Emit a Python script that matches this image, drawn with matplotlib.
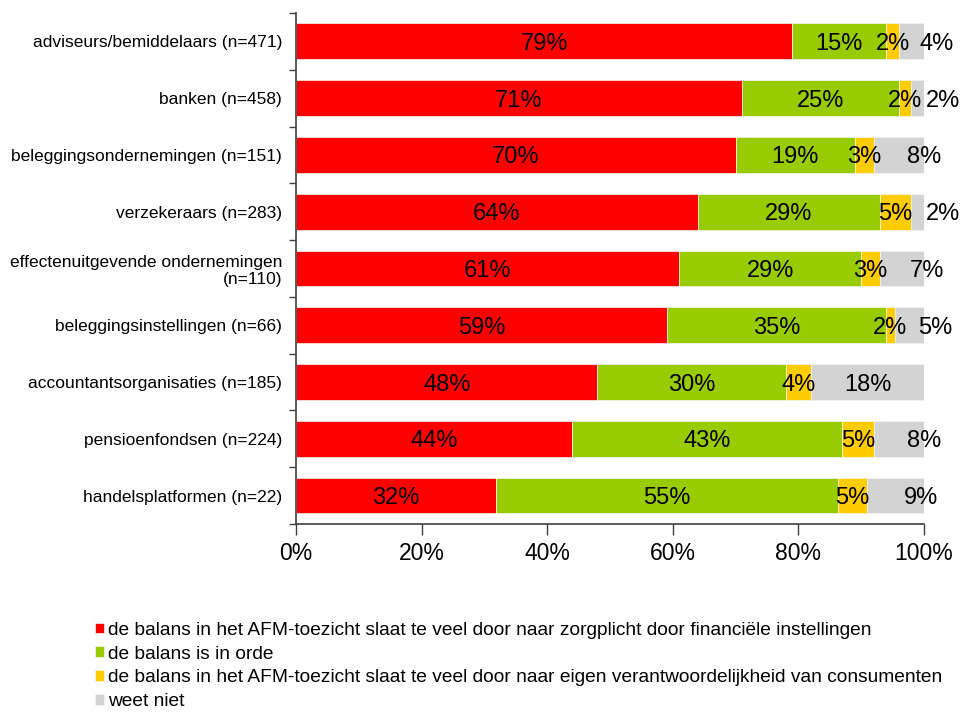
import matplotlib
matplotlib.use('Agg')
import matplotlib.pyplot as plt
import numpy as np

plt.rcParams['font.family'] = ['Liberation Sans', 'DejaVu Sans']

# Categorieën (van boven naar beneden)
categorieen = [
    "adviseurs/bemiddelaars (n=471)",
    "banken (n=458)",
    "beleggingsondernemingen (n=151)",
    "verzekeraars (n=283)",
    "effectenuitgevende ondernemingen\n(n=110)",
    "beleggingsinstellingen (n=66)",
    "accountantsorganisaties (n=185)",
    "pensioenfondsen (n=224)",
    "handelsplatformen (n=22)",
]

# Percentages per antwoord
zorgplicht = [79, 71, 70, 64, 61, 59.1, 48, 44, 31.8]
in_orde = [15, 25, 19, 29, 29, 34.8, 30, 43, 54.55]
eigen_verantw = [2, 2, 3, 5, 3, 1.52, 4, 5, 4.55]
weet_niet = [4, 2, 8, 2, 7, 4.6, 18, 8, 9.1]

legenda = [
    "de balans in het AFM-toezicht slaat te veel door naar zorgplicht door financiële instellingen",
    "de balans is in orde",
    "de balans in het AFM-toezicht slaat te veel door naar eigen verantwoordelijkheid van consumenten",
    "weet niet",
]
kleuren = ["#FF0000", "#99CC00", "#FFCC00", "#D3D3D3"]

reeksen = [zorgplicht, in_orde, eigen_verantw, weet_niet]

fig = plt.figure(figsize=(9.68, 7.13), dpi=100)
ax = fig.add_axes([0.3058, 0.2651, 0.6487, 0.7167])

y = np.arange(len(categorieen))
links = np.zeros(len(categorieen))
handles = []
for i, (waarden, kleur) in enumerate(zip(reeksen, kleuren)):
    waarden = np.array(waarden, dtype=float)
    b = ax.barh(y, waarden, left=links, height=0.63, color=kleur,
                edgecolor='#F4F4F4', linewidth=0.5)
    handles.append(b)
    for yy, l, w in zip(y, links, waarden):
        xc = l + w / 2
        # kleine grijze stukjes: label iets naar rechts
        if i == 3 and w < 10:
            xc += 4
        ax.text(xc, yy, f"{w:.0f}%", ha='center', va='center_baseline',
                fontsize=17, color='black')
    links += waarden

ax.set_xlim(0, 100)
ax.set_ylim(len(categorieen) - 0.5, -0.5)

ax.set_xticks(np.arange(0, 101, 20))
ax.set_xticklabels([f"{v}%" for v in range(0, 101, 20)], fontsize=16.5)
ax.tick_params(axis='x', direction='out', length=8, width=1, color='#404040', pad=5)

ax.set_yticks(y)
ax.set_yticklabels(categorieen, fontsize=12.5)
ax.tick_params(axis='y', which='major', length=0, pad=10)
ax.set_yticks(np.arange(-0.5, len(categorieen)), minor=True)
ax.tick_params(axis='y', which='minor', direction='out', length=5, width=1, color='#404040')

for s in ['top', 'right']:
    ax.spines[s].set_visible(False)
for s in ['left', 'bottom']:
    ax.spines[s].set_color('#404040')
    ax.spines[s].set_linewidth(1.2)

fig.legend(handles, legenda, loc='upper left', bbox_to_anchor=(0.098, 0.128),
           frameon=False, fontsize=13.75, handlelength=0.5, handleheight=0.5,
           handletextpad=0.2, labelspacing=0.36, borderpad=0, borderaxespad=0)

fig.savefig("out.png", dpi=100)
